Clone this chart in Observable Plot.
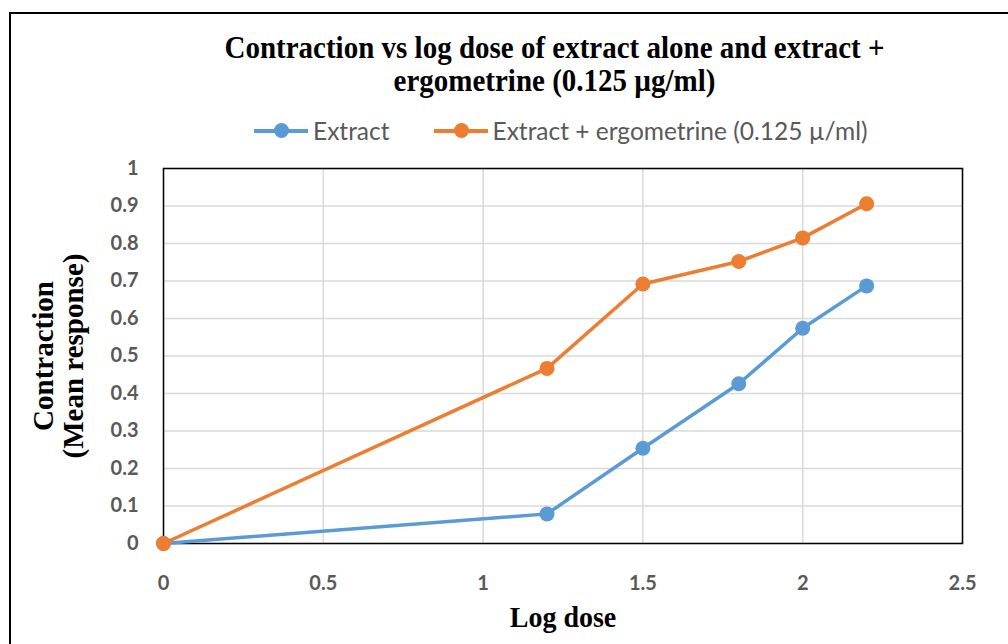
<!DOCTYPE html>
<html>
<head>
<meta charset="utf-8">
<script src="https://cdn.jsdelivr.net/npm/d3@7"></script>
<script src="https://cdn.jsdelivr.net/npm/@observablehq/plot@0.6"></script>
<style>
  html, body { margin: 0; padding: 0; background: #fff; }
  #wrap { position: relative; width: 1008px; height: 644px; overflow: hidden; }
  #border { position: absolute; left: 9px; top: 12px; width: 1100px; height: 700px; border: 2px solid #000; box-sizing: border-box; }
  #title { position: absolute; left: 0; width: 1109px; top: 30px; text-align: center; font-family: "Liberation Serif", serif; font-weight: bold; font-size: 29px; line-height: 30px; color: #000; transform: scaleY(1.1); transform-origin: 50% 0; white-space: nowrap; }
  #legend { position: absolute; left: 254px; top: 116px; font-family: Lato, sans-serif; font-size: 24.5px; color: #595959; white-space: nowrap; display: flex; align-items: center; }
  .item { display: inline-flex; align-items: center; margin-right: 44px; }
  .sw { position: relative; display: inline-block; width: 54px; height: 15px; margin-right: 5px; }
  .sw .ln { position: absolute; left: 0; right: 0; top: 6px; height: 3.5px; }
  .sw .dot { position: absolute; left: 20px; top: 0; width: 15px; height: 15px; border-radius: 50%; }
  #xlabel { position: absolute; left: 163px; width: 800px; top: 602px; text-align: center; font-family: "Liberation Serif", serif; font-weight: bold; font-size: 28px; transform: scaleY(1.05); }
  #ylabel { position: absolute; left: 58px; top: 356px; transform: translate(-50%, -50%) rotate(-90deg); text-align: center; font-family: "Liberation Serif", serif; font-weight: bold; font-size: 29px; line-height: 30px; white-space: nowrap; }
  #chart { position: absolute; left: 0; top: 150px; }
</style>
</head>
<body>
<div id="wrap">
  <div id="border"></div>
  <div id="title"></div>
  <div id="legend"></div>
  <div id="chart"></div>
  <div id="xlabel"></div>
  <div id="ylabel"></div>
</div>
<script>
const titleLines = ["Contraction vs log dose of extract alone and extract +", "ergometrine (0.125 µg/ml)"];
const seriesNames = ["Extract", "Extract + ergometrine (0.125 µ/ml)"];
const seriesColors = ["#5B9BD5", "#ED7D31"];
const logDose = [0, 1.2, 1.5, 1.8, 2.0, 2.2];
const extract = [0, 0.079, 0.254, 0.426, 0.574, 0.687];
const extractErgo = [0, 0.467, 0.692, 0.752, 0.815, 0.906];
const xTicks = [0, 0.5, 1, 1.5, 2, 2.5];
const yTicks = [0, 0.1, 0.2, 0.3, 0.4, 0.5, 0.6, 0.7, 0.8, 0.9, 1];
const xTitle = "Log dose";
const yTitleLines = ["Contraction", "(Mean response)"];

document.getElementById("title").innerHTML = titleLines.join("<br>");
document.getElementById("xlabel").textContent = xTitle;
document.getElementById("ylabel").innerHTML = yTitleLines.join("<br>");
document.getElementById("legend").innerHTML = seriesNames.map((n, i) =>
  `<span class="item"><span class="sw"><span class="ln" style="background:${seriesColors[i]}"></span><span class="dot" style="background:${seriesColors[i]}"></span></span>${n}</span>`
).join("");

const data = [];
logDose.forEach((x, i) => data.push({x, y: extract[i], s: seriesNames[0]}));
logDose.forEach((x, i) => data.push({x, y: extractErgo[i], s: seriesNames[1]}));

const fmt = d => String(d);
const plot = Plot.plot({
  width: 1008,
  height: 494,
  marginLeft: 163,
  marginRight: 46,
  marginTop: 18,
  marginBottom: 101,
  style: { fontFamily: "Lato, sans-serif", fontSize: "20px", fontWeight: "bold", color: "#595959", background: "transparent" },
  x: { domain: [0, 2.5], ticks: xTicks, tickFormat: fmt, label: null, tickSize: 0, tickPadding: 32 },
  y: { domain: [0, 1], ticks: yTicks, tickFormat: fmt, label: null, tickSize: 0, tickPadding: 25 },
  color: { domain: seriesNames, range: seriesColors },
  marks: [
    Plot.gridX(xTicks, { stroke: "#d9d9d9", strokeOpacity: 1, strokeWidth: 1.5 }),
    Plot.gridY(yTicks, { stroke: "#d9d9d9", strokeOpacity: 1, strokeWidth: 1.5 }),
    Plot.frame({ stroke: "#000", strokeWidth: 1.5 }),
    Plot.line(data, { x: "x", y: "y", z: "s", stroke: "s", strokeWidth: 3.5 }),
    Plot.dot(data, { x: "x", y: "y", fill: "s", r: 7.5 })
  ]
});
document.getElementById("chart").appendChild(plot);
</script>
</body>
</html>
